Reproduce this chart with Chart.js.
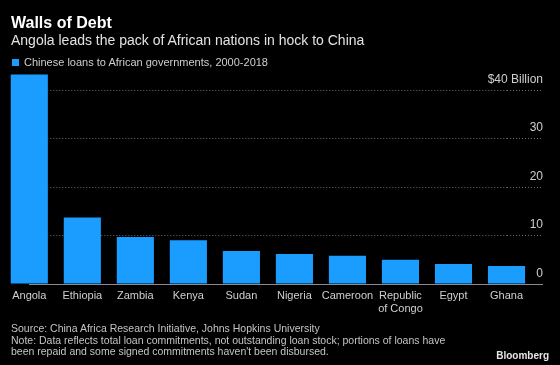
<!DOCTYPE html>
<html>
<head>
<meta charset="utf-8">
<script src="https://cdn.jsdelivr.net/npm/chart.js@4.4.1/dist/chart.umd.min.js"></script>
<style>
  html, body { margin: 0; padding: 0; background: #000; }
  body { width: 560px; height: 365px; position: relative; overflow: hidden; font-family: 'Liberation Sans', Arial, sans-serif; }
  #chart { position: absolute; left: 0; top: 0; }
  .txt { position: absolute; white-space: nowrap; }
  #title { left: 11px; top: 14.8px; font-size: 16px; line-height: 16px; font-weight: bold; color: #fff; }
  #subtitle { left: 11px; top: 32.5px; font-size: 14px; line-height: 14px; color: #e2e2e2; }
  #legend { left: 24px; top: 57.3px; font-size: 11px; line-height: 11px; color: #cfcfcf; }
  #legend-box { position: absolute; left: 12.3px; top: 59.3px; width: 6.5px; height: 6.8px; background: #1a9dff; }
  #notes { left: 11px; top: 323px; font-size: 10.5px; line-height: 11.5px; color: #c4c4c4; }
  #brand { right: 11px; top: 350.5px; font-size: 10px; line-height: 10px; font-weight: bold; color: #e6e6e6; }
</style>
</head>
<body>
<canvas id="chart" width="560" height="329"></canvas>
<div class="txt" id="title">Walls of Debt</div>
<div class="txt" id="subtitle">Angola leads the pack of African nations in hock to China</div>
<div id="legend-box"></div>
<div class="txt" id="legend">Chinese loans to African governments, 2000-2018</div>
<div class="txt" id="notes">Source: China Africa Research Initiative, Johns Hopkins University<br>Note: Data reflects total loan commitments, not outstanding loan stock; portions of loans have<br>been repaid and some signed commitments haven't been disbursed.</div>
<div class="txt" id="brand">Bloomberg</div>
<script>
// Chinese loans to African governments, 2000-2018 ($ billion)
const countries = ['Angola', 'Ethiopia', 'Zambia', 'Kenya', 'Sudan', 'Nigeria', 'Cameroon', ['Republic', 'of Congo'], 'Egypt', 'Ghana'];
const loans = [43.2, 13.7, 9.7, 9.0, 6.8, 6.2, 5.8, 5.0, 4.1, 3.7];

const yTickValues = [0, 10, 20, 30, 40];
const yTickLabels = ['0', '10', '20', '30', '$40 Billion'];

const BAR_BLUE = '#1a9dff';
const GRID = '#707070';
const BASE = '#8c8c8c';
const LABEL = '#cfcfcf';

const ctx = document.getElementById('chart').getContext('2d');
new Chart(ctx, {
  type: 'bar',
  data: {
    labels: countries,
    datasets: [{
      label: 'Chinese loans to African governments, 2000-2018',
      data: loans,
      backgroundColor: BAR_BLUE,
      borderWidth: 0,
      barPercentage: 0.7,
      categoryPercentage: 1,
      clip: false
    }]
  },
  options: {
    responsive: false,
    animation: false,
    layout: { padding: { top: 70.6, left: 29.3, right: 0, bottom: 0 } },
    plugins: {
      legend: { display: false },
      tooltip: { enabled: false }
    },
    scales: {
      x: {
        offset: false,
        grid: { display: false, drawTicks: false },
        border: { display: true, color: BASE, width: 1 },
        ticks: {
          color: LABEL,
          font: { family: "'Liberation Sans', Arial, sans-serif", size: 11, lineHeight: 1.2 },
          padding: 5,
          maxRotation: 0,
          autoSkip: false
        },
        // the right axis asks for 45px below the plot (label padding), so match it
        afterFit: (scale) => { scale.height = 45; }
      },
      y: {
        position: 'right',
        min: 0,
        max: 44,
        border: { display: false, dash: [1, 2] },
        grid: {
          color: (c) => (c.tick && c.tick.value === 0 ? 'rgba(0,0,0,0)' : GRID),
          lineWidth: 1,
          drawTicks: true,
          tickLength: 36.5,
          tickColor: (c) => (c.tick && c.tick.value === 0 ? BASE : GRID),
          tickBorderDash: (c) => (c.tick && c.tick.value === 0 ? [] : [1, 2])
        },
        ticks: {
          stepSize: 10,
          includeBounds: false,
          mirror: true,
          padding: 36.5,
          labelOffset: -10.5,
          color: LABEL,
          font: { family: "'Liberation Sans', Arial, sans-serif", size: 12 },
          callback: (v) => {
            const i = yTickValues.indexOf(v);
            return i >= 0 ? yTickLabels[i] : '';
          }
        },
        afterFit: (scale) => { scale.width = 53.5; }
      }
    }
  }
});
</script>
</body>
</html>
